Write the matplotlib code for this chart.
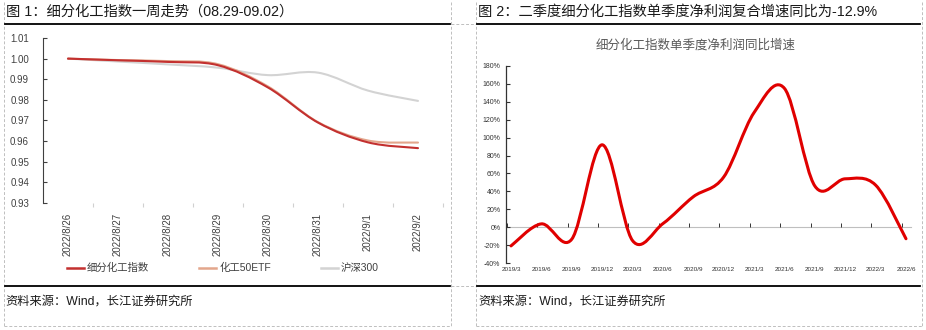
import matplotlib
matplotlib.use("Agg")
import matplotlib.pyplot as plt
from matplotlib.path import Path
from matplotlib.patches import PathPatch
from matplotlib.lines import Line2D
import numpy as np

plt.rcParams['font.family'] = ['Liberation Sans', 'Noto Sans CJK SC', 'DejaVu Sans']

# ---------------- data ----------------
dates = ['2022/8/26', '2022/8/27', '2022/8/28', '2022/8/29',
         '2022/8/30', '2022/8/31', '2022/9/1', '2022/9/2']
chem_index = [1.000, 0.9992, 0.9984, 0.9968, 0.9860, 0.9690, 0.9594, 0.9566]
chem_etf = [1.000, 0.9993, 0.9988, 0.9973, 0.9865, 0.9692, 0.9603, 0.9593]
hs300 = [1.000, 0.9986, 0.9972, 0.9956, 0.9920, 0.9932, 0.9845, 0.9795]
series_names = ['细分化工指数', '化工50ETF', '沪深300']

quarters = ['2019/3', '2019/6', '2019/9', '2019/12', '2020/3', '2020/6', '2020/9',
            '2020/12', '2021/3', '2021/6', '2021/9', '2021/12', '2022/3', '2022/6']
profit_yoy = [-20.9, 3.7, -13.4, 92.0, -15.0, 4.0, 34.0, 56.0, 128.0, 155.0,
              46.0, 54.0, 47.0, -12.9]

left_title = '图 1：细分化工指数一周走势（08.29-09.02）'
right_title = '图 2：二季度细分化工指数单季度净利润复合增速同比为-12.9%'
right_inner_title = '细分化工指数单季度净利润同比增速'
source = '资料来源：Wind，长江证券研究所'


def smooth_path(xs, ys):
    """Excel-like smoothed line: cubic Bezier through every point."""
    xs = list(xs); ys = list(ys)
    n = len(xs)
    verts = [(xs[0], ys[0])]
    codes = [Path.MOVETO]
    for i in range(n - 1):
        p0 = (xs[i - 1], ys[i - 1]) if i > 0 else (xs[i], ys[i])
        p1 = (xs[i], ys[i])
        p2 = (xs[i + 1], ys[i + 1])
        p3 = (xs[i + 2], ys[i + 2]) if i + 2 < n else p2
        c1 = (p1[0] + (p2[0] - p0[0]) / 6, p1[1] + (p2[1] - p0[1]) / 6)
        c2 = (p2[0] - (p3[0] - p1[0]) / 6, p2[1] - (p3[1] - p1[1]) / 6)
        verts += [c1, c2, p2]
        codes += [Path.CURVE4] * 3
    return Path(verts, codes)


W, H = 926, 330
fig = plt.figure(figsize=(W / 100, H / 100), dpi=100)


def fx(px):
    return px / W


def fy(py):
    return 1 - py / H


# ---------- frame decorations ----------
dash_kw = dict(color='#BFBFBF', lw=0.7, ls=(0, (3, 2)))
for x0, x1 in [(4, 451), (476, 922)]:
    fig.add_artist(Line2D([fx(x0), fx(x0)], [fy(2), fy(326)], **dash_kw))
    fig.add_artist(Line2D([fx(x1), fx(x1)], [fy(2), fy(326)], **dash_kw))
    fig.add_artist(Line2D([fx(x0), fx(x1)], [fy(326), fy(326)], **dash_kw))
fig.add_artist(Line2D([fx(451), fx(476)], [fy(24), fy(24)], **dash_kw))
fig.add_artist(Line2D([fx(451), fx(476)], [fy(286), fy(286)], **dash_kw))
for x0, x1 in [(5, 450), (477, 920)]:
    fig.add_artist(Line2D([fx(x0), fx(x1)], [fy(24), fy(24)], color='black', lw=1.3))
    fig.add_artist(Line2D([fx(x0), fx(x1)], [fy(286), fy(286)], color='black', lw=1.3))

fig.text(fx(6), fy(12), left_title, fontsize=10.3, va='center', ha='left', color='#1a1a1a')
fig.text(fx(478), fy(12), right_title, fontsize=10.3, va='center', ha='left', color='#1a1a1a')
fig.text(fx(5), fy(302), source, fontsize=8.8, va='center', ha='left', color='#1a1a1a')
fig.text(fx(478), fy(302), source, fontsize=8.8, va='center', ha='left', color='#1a1a1a')

# ---------------- left chart ----------------
axL = fig.add_axes([fx(43), fy(203), fx(400), (203 - 38) / H])
xL = np.arange(len(dates))
colors = ['#C3302F', '#E3A68C', '#D3D3D3']
order = [(hs300, 2), (chem_etf, 1), (chem_index, 0)]
handles = [None, None, None]
for vals, idx in order:
    p = PathPatch(smooth_path(xL, vals), fill=False, edgecolor=colors[idx], lw=1.5,
                  capstyle='round', joinstyle='round', zorder=3 + (2 - idx))
    axL.add_patch(p)
    handles[idx] = Line2D([], [], color=colors[idx], lw=1.8)
axL.set_xlim(-0.5, len(dates) - 0.5)
axL.set_ylim(0.93, 1.01)
axL.set_yticks(np.arange(0.93, 1.0101, 0.01))
axL.set_yticklabels([f'{v:.2f}' for v in np.arange(0.93, 1.0101, 0.01)])
axL.set_xticks(xL)
axL.set_xticklabels(dates, rotation=90)
axL.set_xticks(np.arange(0.5, len(dates) - 0.5 + 0.01, 1.0), minor=True)
axL.tick_params(axis='x', which='major', length=0, pad=7, labelsize=7, labelcolor='#404040')
axL.tick_params(axis='x', which='minor', length=3, direction='out', color='#D0D0D0', width=0.8)
axL.tick_params(axis='y', direction='in', length=3, pad=10, labelsize=7,
                labelcolor='#404040', color='#404040', width=0.8)
for s in ['top', 'right', 'bottom']:
    axL.spines[s].set_visible(False)
axL.spines['left'].set_color('#404040')
axL.spines['left'].set_linewidth(0.8)
axL.patch.set_alpha(0)

fig.legend(handles, series_names, loc='center', bbox_to_anchor=(fx(223), fy(268)),
           ncol=3, frameon=False, fontsize=7.5, handlelength=1.6, handletextpad=0.3,
           columnspacing=4.8, labelcolor='#404040')

# ---------------- right chart ----------------
axR = fig.add_axes([fx(506), fy(263), fx(405), (263 - 66) / H])
xR = np.arange(len(quarters))
axR.add_patch(PathPatch(smooth_path(xR, profit_yoy), fill=False, edgecolor='#E00000',
                        lw=2.2, capstyle='round', joinstyle='round', zorder=3))
axR.set_xlim(-0.165, len(quarters) - 1 + 0.165)
axR.set_ylim(-40, 180)
yt = np.arange(-40, 181, 20)
axR.set_yticks(yt)
axR.set_yticklabels([f'{v}%' for v in yt])
axR.spines['bottom'].set_position(('data', 0))
axR.spines['bottom'].set_color('#BFBFBF')
axR.spines['bottom'].set_linewidth(0.8)
axR.spines['bottom'].set_zorder(1)
axR.set_xticks(xR)
axR.set_xticklabels(quarters)
axR.set_xticks(xR - 0.14, minor=True)
axR.tick_params(axis='x', which='major', length=0, pad=29, labelsize=4.6, labelcolor='#333333')
axR.tick_params(axis='x', which='minor', length=3, direction='in', color='#333333', width=0.7)
axR.tick_params(axis='y', direction='in', length=3, pad=4, labelsize=5,
                labelcolor='#333333', color='#333333', width=0.8)
for s in ['top', 'right']:
    axR.spines[s].set_visible(False)
axR.spines['left'].set_color('#333333')
axR.spines['left'].set_linewidth(0.9)
axR.patch.set_alpha(0)
fig.text(fx(696), fy(45), right_inner_title, fontsize=9, ha='center', va='center',
         color='#595959')

fig.savefig('out.png', dpi=100)
